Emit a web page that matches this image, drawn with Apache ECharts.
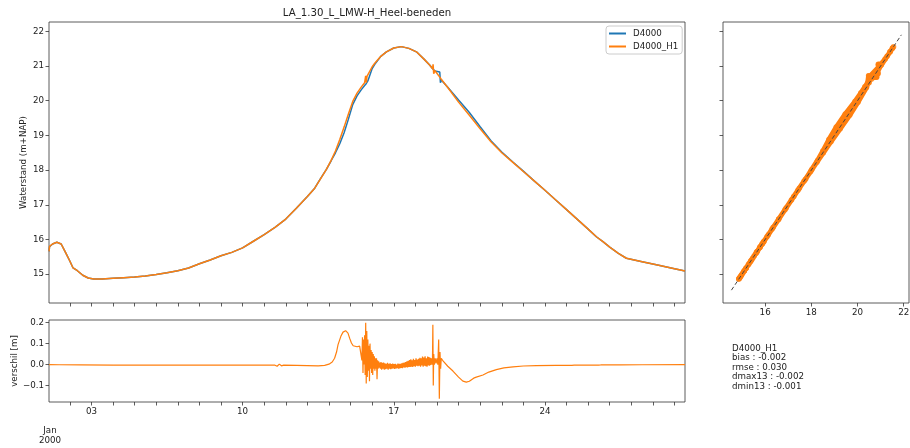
<!DOCTYPE html>
<html>
<head>
<meta charset="utf-8">
<script src="https://cdn.jsdelivr.net/npm/echarts@6/dist/echarts.min.js"></script>
<style>
html,body{margin:0;padding:0;background:#fff;}
#c{width:910px;height:448px;}
</style>
</head>
<body>
<div id="c"></div>
<script>
// ---- data (x = day of January 2000, fractional) ----
const titleText = 'LA_1.30_L_LMW-H_Heel-beneden';
const seriesNames = ['D4000', 'D4000_H1'];
const days = [1.04,1.06,1.20,1.40,1.60,1.80,2.00,2.15,2.35,2.60,2.85,3.10,3.50,4.00,4.50,5.00,5.50,6.00,6.50,7.00,7.50,8.00,8.50,9.00,9.50,10.00,10.50,11.00,11.50,12.00,12.50,13.00,13.34,13.60,13.88,14.10,14.30,14.50,14.70,14.90,15.10,15.30,15.50,15.65,15.70,15.73,15.76,15.80,16.00,16.12,16.40,16.66,17.00,17.35,17.70,18.05,18.40,18.66,18.80,18.82,18.85,18.90,19.13,19.16,19.20,19.50,20.00,20.50,21.00,21.50,22.00,22.50,23.00,23.50,24.00,24.50,25.00,25.50,26.00,26.38,26.70,27.00,27.40,27.77,28.50,29.16,30.00,30.485];
const d4000 = [15.66,15.79,15.87,15.92,15.87,15.63,15.38,15.18,15.10,14.97,14.89,14.86,14.86,14.88,14.90,14.92,14.95,14.99,15.04,15.10,15.18,15.30,15.41,15.53,15.63,15.76,15.95,16.14,16.35,16.59,16.91,17.24,17.48,17.75,18.02,18.27,18.50,18.76,19.08,19.47,19.89,20.14,20.32,20.44,20.48,20.50,20.53,20.57,20.93,21.05,21.28,21.41,21.52,21.56,21.51,21.41,21.20,21.03,20.92,20.90,20.89,20.86,20.83,20.52,20.60,20.39,20.02,19.66,19.25,18.85,18.52,18.24,17.97,17.69,17.42,17.14,16.86,16.58,16.30,16.08,15.93,15.78,15.60,15.46,15.36,15.27,15.16,15.09];
const d4000H1 = [15.66,15.80,15.87,15.92,15.87,15.63,15.38,15.18,15.10,14.97,14.89,14.86,14.86,14.88,14.90,14.92,14.95,14.99,15.04,15.10,15.18,15.30,15.41,15.53,15.63,15.76,15.95,16.14,16.35,16.59,16.91,17.24,17.48,17.74,18.02,18.28,18.55,18.88,19.24,19.62,19.98,20.22,20.40,20.52,20.72,20.52,20.70,20.68,20.98,21.08,21.28,21.41,21.52,21.56,21.51,21.41,21.20,21.03,20.92,21.05,20.78,20.87,20.68,20.65,20.62,20.38,19.96,19.58,19.19,18.82,18.50,18.23,17.96,17.69,17.42,17.14,16.86,16.58,16.30,16.08,15.93,15.78,15.60,15.46,15.36,15.27,15.16,15.09];

const diffDays = [1.04,1.5,2.5,4,6,8,10.5,10.55,10.57,10.6,11.5,11.6,11.7,11.8,11.9,12.5,13.0,13.5,13.8,14.0,14.15,14.26,14.35,14.42,14.55,14.65,14.77,14.88,14.96,15.04,15.12,15.19,15.30,15.42,15.48,
15.500,15.525,15.550,15.575,15.600,15.625,15.650,15.675,15.700,15.725,15.750,15.775,15.800,15.825,15.850,15.875,15.900,15.925,15.950,15.975,16.000,16.025,16.050,16.075,16.100,16.125,16.150,16.175,16.200,16.225,16.250,16.275,16.300,16.325,
16.35,16.38,16.41,16.44,16.47,16.50,16.53,16.56,16.59,16.62,16.65,16.68,16.71,16.74,16.77,16.80,16.83,16.86,16.89,16.92,16.95,16.98,17.01,17.04,17.07,17.10,17.13,17.16,17.19,17.22,17.25,17.28,17.31,17.34,17.37,17.40,17.43,17.46,17.49,17.52,17.55,17.58,17.61,17.64,17.67,17.70,17.73,17.76,17.79,17.82,17.85,17.88,17.91,17.94,17.97,18.00,18.03,18.06,18.09,18.12,18.15,18.18,18.21,18.24,18.27,18.30,18.33,18.36,18.39,18.42,18.45,18.48,18.51,18.54,18.57,18.60,18.63,18.66,18.69,18.72,18.75,
18.79,18.81,18.83,18.85,18.88,18.92,18.96,19.00,19.04,19.08,19.11,19.14,19.17,19.20,19.29,19.50,19.74,20.00,20.20,20.36,20.50,20.59,20.70,20.82,21.13,21.40,21.75,22.10,22.52,23.00,23.60,24.50,25.25,25.30,25.35,26.48,26.53,26.58,27.50,28.50,30.485];
const diffVals = [0.0,-0.001,-0.002,-0.003,-0.003,-0.003,-0.003,-0.012,0.005,-0.003,-0.003,-0.008,0.002,-0.006,-0.003,-0.004,-0.005,-0.006,-0.004,0.002,0.012,0.03,0.06,0.095,0.135,0.155,0.162,0.15,0.125,0.103,0.09,0.088,0.085,0.088,0.08,
0.09,0.02,0.13,-0.04,0.12,0.0,0.14,-0.05,0.20,-0.09,0.16,-0.06,0.12,-0.03,0.09,-0.08,0.10,-0.02,0.07,-0.04,0.06,-0.05,0.05,-0.02,0.04,-0.03,0.03,-0.02,0.03,-0.07,0.02,-0.02,0.015,-0.015,
0.01,-0.02,0.012,-0.025,0.008,-0.02,0.01,-0.025,0.006,-0.022,0.004,-0.02,0.008,-0.024,0.003,-0.02,0.006,-0.022,0.002,-0.02,0.005,-0.018,0.002,-0.021,0.004,-0.019,0.0,-0.017,0.005,-0.02,0.003,-0.018,0.004,-0.016,0.006,-0.017,0.008,-0.014,0.01,-0.015,0.012,-0.012,0.015,-0.014,0.018,-0.011,0.022,-0.012,0.025,-0.01,0.02,-0.012,0.028,-0.008,0.022,-0.01,0.03,-0.006,0.024,-0.008,0.028,-0.005,0.032,-0.01,0.03,-0.004,0.038,-0.01,0.034,-0.006,0.04,-0.008,0.03,-0.01,0.038,-0.004,0.036,-0.006,0.032,-0.002,0.03,
0.0,0.19,-0.10,0.05,0.0,0.03,0.005,0.03,0.0,0.12,-0.163,0.06,-0.02,0.03,0.016,-0.008,-0.031,-0.06,-0.079,-0.084,-0.08,-0.071,-0.065,-0.06,-0.05,-0.036,-0.024,-0.016,-0.011,-0.007,-0.005,-0.004,-0.004,-0.009,-0.003,-0.003,-0.008,-0.002,-0.002,-0.001,0.0];

const oneToOne = [14.54, 21.9];
const statsLines = ['D4000_H1', 'bias : -0.002', 'rmse : 0.030', 'dmax13 : -0.002', 'dmin13 : -0.001'];
const xMajorTicks = [3, 10, 17, 24];
const xMinorTicks = [2,3,4,5,6,7,8,9,10,11,12,13,14,15,16,17,18,19,20,21,22,23,24,25,26,27,28,29,30];
const yMainTicks = [15,16,17,18,19,20,21,22];
const yDiffTicks = [-0.1, 0.0, 0.1, 0.2];
const xScatterTicks = [16, 18, 20, 22];
const dateOffsetLabel = 'Jan\n2000';

// ---- chart ----
const FONT = 'DejaVu Sans';
const FS = 8.7;
const TXT = '#222';
const BLUE = '#1f77b4', ORANGE = '#ff7f0e';
const zip = (a, b) => a.map((v, i) => [v, b[i]]);

const baseAxis = {
  splitLine: { show: false },
  axisLine: { show: false, onZero: false },
  axisTick: { show: true, inside: false, length: 3.5, lineStyle: { color: '#333', width: 0.8 } },
  axisLabel: { fontFamily: FONT, fontSize: FS, color: TXT, margin: 5 },
  nameMoveOverlap: false
};
function ax(extra) {
  const o = JSON.parse(JSON.stringify(baseAxis));
  for (const k in extra) {
    if (typeof extra[k] === 'object' && !Array.isArray(extra[k]) && o[k]) Object.assign(o[k], extra[k]);
    else o[k] = extra[k];
  }
  return o;
}
const gridStyle = { show: true, borderColor: '#333', borderWidth: 0.8, backgroundColor: '#fff',
  containLabel: false, outerBoundsMode: 'none' };

const chart = echarts.init(document.getElementById('c'), null, { renderer: 'canvas' });
chart.setOption({
  animation: false,
  backgroundColor: '#fff',
  grid: [
    Object.assign({ left: 49, top: 22, width: 636, height: 281 }, gridStyle),
    Object.assign({ left: 49, top: 320, width: 636, height: 82 }, gridStyle),
    Object.assign({ left: 723, top: 22, width: 186, height: 281 }, gridStyle)
  ],
  xAxis: [
    ax({ type: 'value', gridIndex: 0, min: 1.036, max: 30.485,
         axisTick: { customValues: xMinorTicks }, axisLabel: { show: false } }),
    ax({ type: 'value', gridIndex: 1, min: 1.036, max: 30.485,
         axisTick: { customValues: xMinorTicks },
         axisLabel: { customValues: xMajorTicks, formatter: v => String(Math.round(v)).padStart(2, '0') } }),
    ax({ type: 'value', gridIndex: 2, min: 14.175, max: 22.23,
         axisTick: { customValues: xScatterTicks },
         axisLabel: { customValues: xScatterTicks, formatter: v => String(v) } })
  ],
  yAxis: [
    ax({ type: 'value', gridIndex: 0, min: 14.17, max: 22.27,
         axisTick: { customValues: yMainTicks },
         axisLabel: { customValues: yMainTicks, formatter: v => String(v) },
         name: 'Waterstand (m+NAP)', nameLocation: 'middle', nameGap: 21,
         nameTextStyle: { fontFamily: FONT, fontSize: FS, color: TXT } }),
    ax({ type: 'value', gridIndex: 1, min: -0.179, max: 0.213,
         axisTick: { customValues: yDiffTicks },
         axisLabel: { customValues: yDiffTicks, formatter: v => (v < -1e-9 ? '\u2212' : '') + Math.abs(v).toFixed(1) },
         name: 'verschil [m]', nameLocation: 'middle', nameGap: 30,
         nameTextStyle: { fontFamily: FONT, fontSize: FS, color: TXT } }),
    ax({ type: 'value', gridIndex: 2, min: 14.17, max: 22.27,
         axisTick: { customValues: yMainTicks }, axisLabel: { show: false } })
  ],
  legend: {
    data: seriesNames,
    orient: 'vertical', left: 606, top: 26,
    padding: [3, 4, 3, 3], itemGap: 4,
    itemWidth: 17, itemHeight: 2, icon: 'rect',
    borderColor: '#ccc', borderWidth: 1, borderRadius: 3, backgroundColor: '#fff',
    textStyle: { fontFamily: FONT, fontSize: FS, color: TXT, padding: [0, 0, 0, 2] }
  },
  series: [
    { name: seriesNames[0], type: 'line', xAxisIndex: 0, yAxisIndex: 0, data: zip(days, d4000),
      showSymbol: false, color: BLUE, lineStyle: { width: 1.5, color: BLUE } },
    { name: seriesNames[1], type: 'line', xAxisIndex: 0, yAxisIndex: 0, data: zip(days, d4000H1),
      showSymbol: false, color: ORANGE, lineStyle: { width: 1.5, color: ORANGE } },
    { name: 'verschil', type: 'line', xAxisIndex: 1, yAxisIndex: 1, data: zip(diffDays, diffVals),
      showSymbol: false, color: ORANGE, lineStyle: { width: 1.2, color: ORANGE } },
    { name: 'scatterBand', type: 'line', xAxisIndex: 2, yAxisIndex: 2, data: zip(d4000, d4000H1),
      showSymbol: false, color: ORANGE, lineStyle: { width: 5, color: ORANGE, cap: 'round', join: 'round' } },
    { name: 'scatterPts', type: 'scatter', xAxisIndex: 2, yAxisIndex: 2, data: zip(d4000, d4000H1),
      symbolSize: 5.5, itemStyle: { color: ORANGE } },
    { name: 'oneToOne', type: 'line', xAxisIndex: 2, yAxisIndex: 2, data: zip(oneToOne, oneToOne),
      showSymbol: false, z: 5, color: '#444', lineStyle: { width: 1, type: [4, 2.5], color: '#444' } }
  ],
  graphic: [
    { type: 'text', x: 367, y: 13, style: { text: titleText, align: 'center', verticalAlign: 'middle',
      font: '10.2px "' + FONT + '"', fill: TXT } },
    { type: 'text', x: 50, y: 426, style: { text: dateOffsetLabel, align: 'center', verticalAlign: 'top',
      font: FS + 'px "' + FONT + '"', fill: TXT, lineHeight: 10 } },
    { type: 'text', x: 732, y: 343.5, style: { text: statsLines.join('\n'), align: 'left', verticalAlign: 'top',
      font: FS + 'px "' + FONT + '"', fill: TXT, lineHeight: 9.6 } }
  ]
});
</script>
</body>
</html>
